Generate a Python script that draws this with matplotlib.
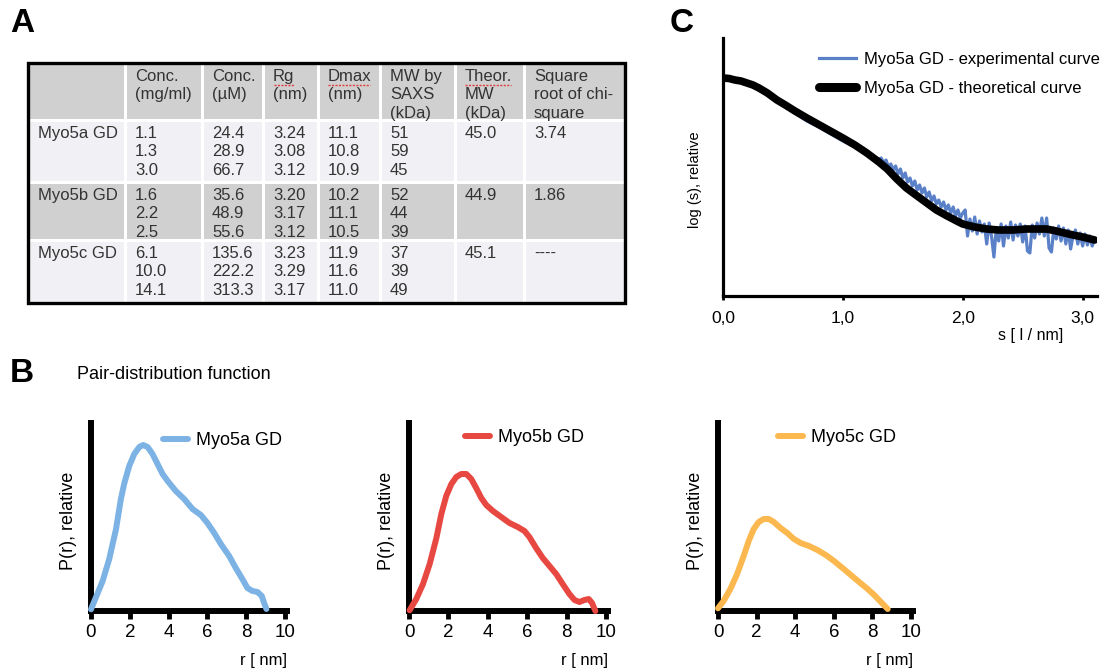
import matplotlib.pyplot as plt
from matplotlib.patches import Rectangle

plt.rcParams['font.family'] = ['Liberation Sans', 'DejaVu Sans']

# ---- panel A: tabla SAXS
col_headers = ['', 'Conc.\n(mg/ml)', 'Conc.\n(µM)', 'Rg\n(nm)', 'Dmax\n(nm)',
               'MW by\nSAXS\n(kDa)', 'Theor.\nMW\n(kDa)', 'Square\nroot of chi-\nsquare']
samples = ['Myo5a GD', 'Myo5b GD', 'Myo5c GD']
conc_mg = [['1.1', '1.3', '3.0'], ['1.6', '2.2', '2.5'], ['6.1', '10.0', '14.1']]
conc_um = [['24.4', '28.9', '66.7'], ['35.6', '48.9', '55.6'], ['135.6', '222.2', '313.3']]
rg_nm = [['3.24', '3.08', '3.12'], ['3.20', '3.17', '3.12'], ['3.23', '3.29', '3.17']]
dmax_nm = [['11.1', '10.8', '10.9'], ['10.2', '11.1', '10.5'], ['11.9', '11.6', '11.0']]
mw_saxs = [['51', '59', '45'], ['52', '44', '39'], ['37', '39', '49']]
mw_theor = ['45.0', '44.9', '45.1']
chi_sqrt = ['3.74', '1.86', '----']

# ---- panel B: funciones de distribucion de pares
pr_labels = ['Myo5a GD', 'Myo5b GD', 'Myo5c GD']
pr_colors = ['#7cb2e4', '#e74841', '#fbb84e']
r_a = [0.0, 0.6, 0.94, 1.29, 1.54, 1.72, 1.97, 2.23, 2.49, 2.69, 2.92, 3.17, 3.43, 3.69,
       3.95, 4.37, 4.8, 5.23, 5.66, 6.0, 6.35, 6.69, 7.12, 7.46, 7.8, 8.06, 8.32, 8.58,
       8.8, 8.92, 9.04]
p_a = [1.7, 30, 52, 82, 112, 128, 145, 157, 164, 166, 164, 157, 147, 137, 130, 120, 112,
       102, 96, 88, 78, 67, 55, 43, 32, 23, 20, 19, 15, 8, 2]
r_b = [0.03, 0.37, 0.71, 1.05, 1.39, 1.64, 1.89, 2.15, 2.4, 2.65, 2.91, 3.16, 3.41, 3.67,
       3.92, 4.26, 4.68, 5.1, 5.52, 5.86, 6.11, 6.45, 6.79, 7.13, 7.47, 7.8, 8.14, 8.4,
       8.65, 8.9, 9.12, 9.29, 9.46]
p_b = [0.7, 12, 27, 47, 73, 97, 115, 127, 134, 137, 137, 132, 123, 113, 106, 100, 94, 88,
       84, 80, 74, 63, 53, 45, 37, 27, 17, 11, 9, 11, 12, 8, 0]
r_c = [0.0, 0.29, 0.64, 0.99, 1.33, 1.59, 1.85, 2.11, 2.37, 2.63, 2.89, 3.24, 3.59, 3.93,
       4.28, 4.71, 5.15, 5.58, 6.01, 6.45, 6.88, 7.31, 7.75, 8.09, 8.44, 8.79]
p_c = [2.7, 10, 22, 37, 55, 70, 82, 89, 92, 92, 89, 83, 78, 72, 68, 65, 61, 56, 50, 43,
       36, 29, 22, 16, 9, 2]
r_ticks = [0, 2, 4, 6, 8, 10]

# ---- panel C: curvas de dispersion (unidades relativas)
theo_s = [0.0, 0.05, 0.1, 0.15, 0.2, 0.25, 0.3, 0.37, 0.45, 0.52, 0.6, 0.7, 0.85, 1.0,
          1.1, 1.2, 1.3, 1.37, 1.45, 1.53, 1.62, 1.7, 1.78, 1.87, 1.95, 2.0, 2.1, 2.2,
          2.3, 2.42, 2.53, 2.64, 2.7, 2.78, 2.85, 2.92, 3.0, 3.1]
theo_v = [218, 217.5, 216, 215, 213, 211, 208, 203, 196, 191, 185, 178, 168, 158,
          151, 143, 134, 127, 117, 108, 100, 93, 86, 80, 75, 72, 69, 67,
          66, 66, 67, 67, 67, 65, 63, 61, 59, 56]
exp_s = [0.0, 0.1, 0.2, 0.3, 0.4, 0.5, 0.6, 0.7, 0.8, 0.9, 1.0, 1.1, 1.2,
         1.30, 1.32, 1.34, 1.36, 1.38, 1.40, 1.42, 1.44, 1.46, 1.48, 1.50, 1.52,
         1.54, 1.56, 1.58, 1.60, 1.62, 1.64, 1.66, 1.68, 1.70, 1.72, 1.74, 1.76,
         1.78, 1.80, 1.82, 1.84, 1.86, 1.88, 1.90, 1.92, 1.94, 1.96, 1.98, 2.00,
         2.02, 2.04, 2.06, 2.08, 2.10, 2.12, 2.14, 2.16, 2.18, 2.20, 2.22, 2.24,
         2.26, 2.28, 2.30, 2.32, 2.34, 2.36, 2.38, 2.40, 2.42, 2.44, 2.46, 2.48,
         2.50, 2.52, 2.54, 2.56, 2.58, 2.60, 2.62, 2.64, 2.66, 2.68, 2.70, 2.72,
         2.74, 2.76, 2.78, 2.80, 2.82, 2.84, 2.86, 2.88, 2.90, 2.92, 2.94, 2.96,
         2.98, 3.00, 3.02, 3.04, 3.06, 3.08, 3.10]
exp_v = [218, 216, 213, 207, 200, 192, 183, 175, 169, 162, 155, 149, 142,
         137, 138, 133, 136, 129, 132, 126, 130, 122, 127, 118, 123,
         114, 118, 110, 115, 106, 111, 103, 108, 99, 104, 95, 100,
         92, 96, 89, 94, 86, 91, 83, 89, 80, 86, 78, 83,
         86, 60, 77, 65, 79, 62, 75, 64, 72, 52, 73, 60,
         39, 68, 55, 72, 50, 70, 58, 74, 56, 71, 60, 72,
         54, 70, 45, 43, 71, 58, 73, 62, 78, 60, 78, 48,
         44, 68, 57, 70, 55, 68, 52, 66, 47, 60, 66, 52,
         63, 50, 62, 51, 60, 50, 57]
s_ticks = [0, 1, 2, 3]
s_ticklabels = ['0,0', '1,0', '2,0', '3,0']

W, H = 1108, 670


def caja(x0, y0, x1, y1):
    # pixeles (origen arriba a la izquierda) -> fraccion de figura
    return [x0 / W, 1 - y1 / H, (x1 - x0) / W, (y1 - y0) / H]


fig = plt.figure(figsize=(W / 100, H / 100), dpi=100)

# ---------------- A: tabla dibujada a mano
tab = fig.add_axes([0, 0, 1, 1])
tab.set_xlim(0, W)
tab.set_ylim(H, 0)
tab.axis('off')

col_x = [28, 125, 202, 263, 318, 380, 455, 524, 625]
row_y = [63, 120, 182, 240, 303]
fondos = ['#d0d0d0', '#f1f1f5', '#d0d0d0', '#f1f1f5']
for i in range(4):
    for j in range(8):
        tab.add_patch(Rectangle((col_x[j] + 1.5, row_y[i] + 1.5),
                                col_x[j + 1] - col_x[j] - 3, row_y[i + 1] - row_y[i] - 3,
                                fc=fondos[i], ec='none'))
tab.add_patch(Rectangle((col_x[0], row_y[0]), col_x[-1] - col_x[0], row_y[-1] - row_y[0],
                        fc='none', ec='black', lw=2.4))

txt = dict(fontsize=12, color='#333333', va='top', ha='left', linespacing=1.28)
for j, h in enumerate(col_headers):
    tab.text(col_x[j] + 10, row_y[0] + 6, h, **txt)
for i in range(3):
    fila = [samples[i], '\n'.join(conc_mg[i]), '\n'.join(conc_um[i]), '\n'.join(rg_nm[i]),
            '\n'.join(dmax_nm[i]), '\n'.join(mw_saxs[i]), mw_theor[i], chi_sqrt[i]]
    for j, t in enumerate(fila):
        tab.text(col_x[j] + 10, row_y[i + 1] + 6, t, **txt)

# subrayado rojo del corrector
for x0, x1 in [(274, 294), (328, 370), (465, 511)]:
    tab.plot([x0, x1], [84.5, 84.5], color='#e03a3a', lw=1, ls=(0, (1.5, 1)))

# ---------------- letras de panel
fig.text(22 / W, 1 - 23 / H, 'A', fontsize=24, fontweight='bold', ha='center', va='center')
fig.text(22 / W, 1 - 373 / H, 'B', fontsize=24, fontweight='bold', ha='center', va='center')
fig.text(682 / W, 1 - 24 / H, 'C', fontsize=24, fontweight='bold', ha='center', va='center')
fig.text(77 / W, 1 - 375 / H, 'Pair-distribution function', fontsize=13, ha='left', va='center')

# ---------------- B: tres graficos P(r)
b_pos = [(91, 287), (409, 608), (718, 913)]
b_leg = [(163, 432), (465, 429), (778, 429)]
datos = [(r_a, p_a), (r_b, p_b), (r_c, p_c)]
for k in range(3):
    x0, x1 = b_pos[k]
    ax = fig.add_axes(caja(x0, 423, x1, 611))
    r, p = datos[k]
    ax.plot(r, p, color=pr_colors[k], lw=4.3, solid_capstyle='round',
            solid_joinstyle='round', label=pr_labels[k], clip_on=False, zorder=3)
    ax.set_xlim(0, 10.1)
    ax.set_ylim(0, 188)
    for lado in ['top', 'right']:
        ax.spines[lado].set_visible(False)
    for lado in ['left', 'bottom']:
        ax.spines[lado].set_linewidth(4.3)
    ax.set_yticks([])
    ax.set_xticks(r_ticks)
    ax.tick_params(axis='x', direction='out', length=5.5, width=3.5, pad=4, labelsize=13.5)
    ax.set_xlabel('r [ nm]', fontsize=12, ha='right')
    ax.xaxis.set_label_coords(1.0, -0.225)
    ax.set_ylabel('P(r), relative', fontsize=13)
    ax.yaxis.set_label_coords(-0.07, 0.48)
    lx, ly = b_leg[k]
    ax.legend(loc='upper left', bbox_to_anchor=(lx / W, 1 - ly / H),
              bbox_transform=fig.transFigure, frameon=False, fontsize=13,
              handlelength=1.4, handletextpad=0.45, borderpad=0, borderaxespad=0)

# ---------------- C: curva experimental vs teorica
c_ax = fig.add_axes(caja(723, 38, 1097, 296))
c_ax.plot(exp_s, exp_v, color='#5a80c8', lw=2.3, label='Myo5a GD - experimental curve')
c_ax.plot(theo_s, theo_v, color='black', lw=5.5, solid_capstyle='round',
          solid_joinstyle='round', label='Myo5a GD - theoretical curve')
c_ax.set_xlim(0, 3.12)
c_ax.set_ylim(0, 258)
for lado in ['top', 'right']:
    c_ax.spines[lado].set_visible(False)
for lado in ['left', 'bottom']:
    c_ax.spines[lado].set_linewidth(2.3)
c_ax.set_yticks([])
c_ax.set_xticks(s_ticks)
c_ax.set_xticklabels(s_ticklabels)
c_ax.tick_params(axis='x', direction='out', length=3, width=2, pad=8, labelsize=12.5)
c_ax.set_xlabel('s [ l / nm]', fontsize=11.5, ha='right')
c_ax.xaxis.set_label_coords(0.91, -0.125)
c_ax.set_ylabel('log (s), relative', fontsize=10.5)
c_ax.yaxis.set_label_coords(-0.055, 0.45)
leg = c_ax.legend(loc='upper left', bbox_to_anchor=(819 / W, 1 - 52 / H),
                  bbox_transform=fig.transFigure, frameon=False, fontsize=12,
                  handlelength=2.2, handletextpad=0.5, labelspacing=0.85,
                  borderpad=0, borderaxespad=0)
leg.get_lines()[1].set_linewidth(6.5)

fig.savefig('out.png', dpi=100)
plt.close(fig)
